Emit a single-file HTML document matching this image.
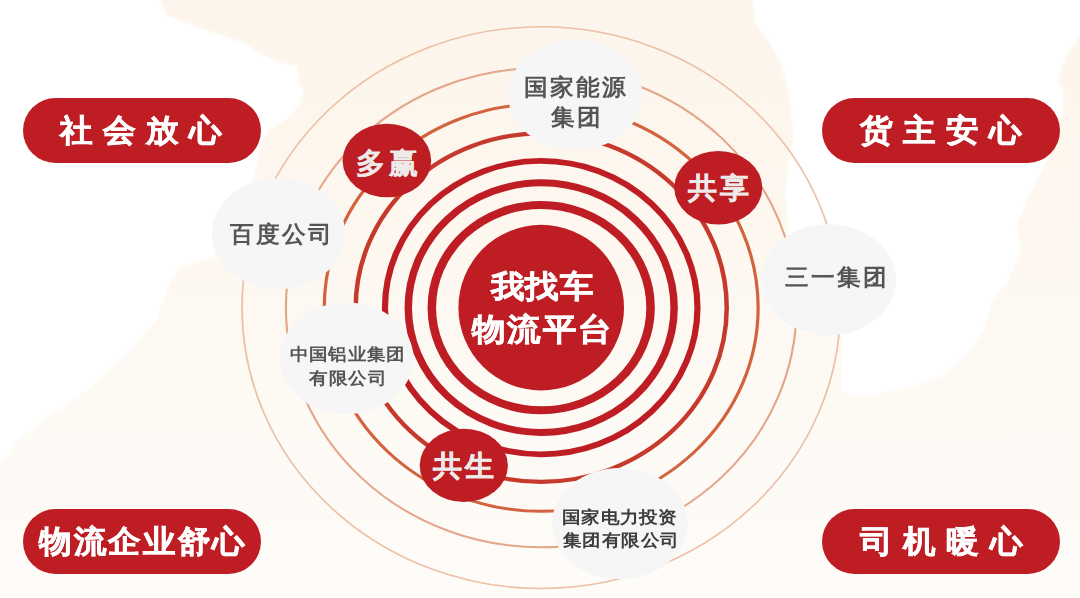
<!DOCTYPE html>
<html><head><meta charset="utf-8"><title>我找车物流平台</title>
<style>
html,body{margin:0;padding:0;width:1080px;height:598px;overflow:hidden;background:#fff}
body{position:relative;font-family:"Liberation Sans",sans-serif}
svg.bg{position:absolute;left:0;top:0}
.t{position:absolute;white-space:nowrap;font-weight:bold;transform-origin:0 0}
</style></head><body>
<svg class="bg" width="1080" height="598" viewBox="0 0 1080 598">
<defs><linearGradient id="cg" x1="0" y1="0" x2="0" y2="1"><stop offset="0" stop-color="#fdf5eb"/><stop offset="0.5" stop-color="#fdf8f1"/><stop offset="1" stop-color="#fefcf9"/></linearGradient><filter id="bl" x="-5%" y="-5%" width="110%" height="110%"><feGaussianBlur stdDeviation="0.8"/></filter></defs>
<rect x="0" y="0" width="1080" height="598" fill="url(#cg)"/>
<g filter="url(#bl)"><polygon points="-10,-10 160.7,-10 160.7,0 167,16 181,21 201.5,28.5 242,42 262.6,55 281,63 297,67 299,81.5 303,92 299,106 288,118 270,130 262,142 258,160 255,175 217,255 178,268 165,294 156.5,320 126,355 87,390 78,398 43,420 17,442 0,463 -10,470" fill="#ffffff"/>
<polygon points="753,-10 753,0 755,23 768.5,42 780,61.5 787.7,88.5 791.5,115 793.5,142 787.7,165 785.8,192 788,230 790,330 842,336 842,393 860,397 920,385 941,377 969,353 985,328 993,300 1009,280 1021,248 1017,224 1030,193 1044,169 1062,120 1064,96 1058,80 1066,56 1080,36 1090,30 1090,-10" fill="#ffffff"/></g>
<g transform="translate(541.2,307.65) scale(1.065,1)" fill="none">
<circle cx="0" cy="0" r="280.9" stroke="#ecbfa6" stroke-width="1.6"/>
<circle cx="0" cy="0" r="239.7" stroke="#e4a689" stroke-width="2.0"/>
<circle cx="0" cy="0" r="203.7" stroke="#d3633f" stroke-width="3.0"/>
<circle cx="0" cy="0" r="174.2" stroke="#c53a2c" stroke-width="4.2"/>
<circle cx="0" cy="0" r="146.7" stroke="#bd1d23" stroke-width="5.8"/>
<circle cx="0" cy="0" r="124.8" stroke="#bd1d23" stroke-width="7.0"/>
<circle cx="0" cy="0" r="102.7" stroke="#bd1d23" stroke-width="8.0"/>
</g>
<circle cx="541.2" cy="307.65" r="82.8" fill="#bd1d23"/>
<ellipse cx="386.9" cy="160.5" rx="44.3" ry="36.8" fill="#bd1d23"/>
<ellipse cx="718.3" cy="187.7" rx="44.0" ry="36.8" fill="#bd1d23"/>
<ellipse cx="463.8" cy="465.4" rx="44.1" ry="36.6" fill="#bd1d23"/>
<ellipse cx="575.3" cy="95.0" rx="67.0" ry="55.0" fill="#f6f6f6"/>
<ellipse cx="278.6" cy="233.7" rx="66.6" ry="55.4" fill="#f6f6f6"/>
<ellipse cx="828.6" cy="279.8" rx="67.3" ry="55.5" fill="#f6f6f6"/>
<ellipse cx="346.6" cy="358.3" rx="66.8" ry="55.7" fill="#f6f6f6"/>
<ellipse cx="619.9" cy="523.5" rx="67.9" ry="55.5" fill="#f6f6f6"/>
<rect x="23" y="98" width="238" height="65" rx="32.5" ry="32.5" fill="#be1d23"/>
<rect x="822" y="98" width="238" height="65" rx="32.5" ry="32.5" fill="#be1d23"/>
<rect x="23" y="509" width="238" height="65" rx="32.5" ry="32.5" fill="#be1d23"/>
<rect x="822" y="509" width="238" height="65" rx="32.5" ry="32.5" fill="#be1d23"/>
</svg>
<div class="t" id="t0" style="left:60.40px;top:114.60px;font-size:31.20px;line-height:31.20px;letter-spacing:10.03px;transform:scaleX(1.0500);color:#ffffff;-webkit-text-stroke:0.6px #ffffff">社会放心</div>
<div class="t" id="t1" style="left:860.20px;top:114.70px;font-size:31.20px;line-height:31.20px;letter-spacing:10.10px;transform:scaleX(1.0500);color:#ffffff;-webkit-text-stroke:0.6px #ffffff">货主安心</div>
<div class="t" id="t2" style="left:38.60px;top:526.00px;font-size:31.20px;line-height:31.20px;letter-spacing:1.98px;transform:scaleX(1.0500);color:#ffffff;-webkit-text-stroke:0.6px #ffffff">物流企业舒心</div>
<div class="t" id="t3" style="left:860.00px;top:526.00px;font-size:31.20px;line-height:31.20px;letter-spacing:10.16px;transform:scaleX(1.0500);color:#ffffff;-webkit-text-stroke:0.6px #ffffff">司机暖心</div>
<div class="t" id="t4" style="left:491.10px;top:272.40px;font-size:30.80px;line-height:30.80px;letter-spacing:0.88px;transform:scaleX(1.0800);color:#ffffff;-webkit-text-stroke:0.6px #ffffff">我找车</div>
<div class="t" id="t5" style="left:472.40px;top:315.20px;font-size:30.80px;line-height:30.80px;letter-spacing:1.67px;transform:scaleX(1.0800);color:#ffffff;-webkit-text-stroke:0.6px #ffffff">物流平台</div>
<div class="t" id="t6" style="left:355.80px;top:148.60px;font-size:29.00px;line-height:29.00px;letter-spacing:4.20px;transform:scaleX(1.0000);color:#efeaea;-webkit-text-stroke:0.1px #efeaea">多赢</div>
<div class="t" id="t7" style="left:687.60px;top:173.60px;font-size:29.00px;line-height:29.00px;letter-spacing:3.50px;transform:scaleX(1.0000);color:#efeaea;-webkit-text-stroke:0.3px #efeaea">共享</div>
<div class="t" id="t8" style="left:433.40px;top:452.00px;font-size:29.00px;line-height:29.00px;letter-spacing:2.20px;transform:scaleX(1.0000);color:#efeaea;-webkit-text-stroke:0.3px #efeaea">共生</div>
<div class="t" id="t9" style="left:524.10px;top:76.00px;font-size:23.00px;line-height:23.00px;letter-spacing:2.17px;transform:scaleX(1.0300);color:#555555;-webkit-text-stroke:0.0px #555555">国家能源</div>
<div class="t" id="t10" style="left:550.90px;top:105.50px;font-size:23.00px;line-height:23.00px;letter-spacing:1.94px;transform:scaleX(1.0300);color:#555555;-webkit-text-stroke:0.0px #555555">集团</div>
<div class="t" id="t11" style="left:230.40px;top:223.20px;font-size:23.00px;line-height:23.00px;letter-spacing:2.23px;transform:scaleX(1.0300);color:#555555;-webkit-text-stroke:0.0px #555555">百度公司</div>
<div class="t" id="t12" style="left:785.10px;top:266.40px;font-size:23.00px;line-height:23.00px;letter-spacing:2.10px;transform:scaleX(1.0300);color:#555555;-webkit-text-stroke:0.0px #555555">三一集团</div>
<div class="t" id="t13" style="left:289.70px;top:346.40px;font-size:17.20px;line-height:17.20px;letter-spacing:0.61px;transform:scaleX(1.0900);color:#555555;-webkit-text-stroke:0.0px #555555">中国铝业集团</div>
<div class="t" id="t14" style="left:309.00px;top:370.40px;font-size:17.20px;line-height:17.20px;letter-spacing:0.92px;transform:scaleX(1.0900);color:#555555;-webkit-text-stroke:0.0px #555555">有限公司</div>
<div class="t" id="t15" style="left:561.60px;top:508.80px;font-size:17.20px;line-height:17.20px;letter-spacing:0.68px;transform:scaleX(1.0900);color:#3d3d3d;-webkit-text-stroke:0.0px #3d3d3d">国家电力投资</div>
<div class="t" id="t16" style="left:562.60px;top:531.50px;font-size:17.20px;line-height:17.20px;letter-spacing:0.86px;transform:scaleX(1.0900);color:#3d3d3d;-webkit-text-stroke:0.0px #3d3d3d">集团有限公司</div>
</body></html>
